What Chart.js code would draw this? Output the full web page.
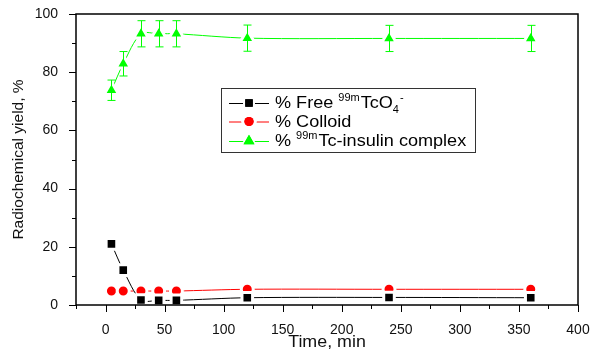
<!DOCTYPE html>
<html>
<head>
<meta charset="utf-8">
<script src="https://cdn.jsdelivr.net/npm/chart.js@4/dist/chart.umd.min.js"></script>
<style>
  html, body { margin: 0; padding: 0; background: #fff; }
  #wrap { width: 591px; height: 350px; }
</style>
</head>
<body>
<div id="wrap"><canvas id="chart" width="591" height="350"></canvas></div>
<script>
// sampling times (min)
const times = [5, 15, 30, 45, 60, 120, 240, 360]

// radiochemical yields, %
const freeTcO4 = [21, 12, 1.7, 1.6, 1.6, 2.5, 2.6, 2.5]
const colloid = [4.8, 4.8, 4.8, 4.8, 4.8, 5.4, 5.4, 5.4]
const complex = [73.8, 82.9, 93.2, 93.2, 93.2, 91.7, 91.6, 91.6]
const complexErr = [3.5, 4.2, 4.5, 4.5, 4.5, 4.5, 4.5, 4.5]

const xTicks = [0, 50, 100, 150, 200, 250, 300, 350, 400]
const yTicks = [0, 20, 40, 60, 80, 100]

const FONT = '"Liberation Sans", Arial, sans-serif'

const toPoints = (vals) => times.map((t, i) => ({ x: t, y: vals[i] }))

// text widened horizontally
const stretchText = (ctx, txt, x, y, sx) => {
  ctx.save()
  ctx.translate(x, y)
  ctx.scale(sx, 1)
  ctx.fillText(txt, 0, 0)
  ctx.restore()
  return ctx.measureText(txt).width * sx
}

// frame, major/minor ticks and axis titles
const framePlugin = {
  id: 'frame',
  afterDraw: (chart) => {
    const { ctx, chartArea: a, scales } = chart
    const sx = scales.x, sy = scales.y
    ctx.save()
    ctx.strokeStyle = '#000'
    ctx.lineWidth = 1.5
    ctx.strokeRect(a.left, a.top, a.right - a.left, a.bottom - a.top)

    ctx.lineWidth = 1
    ctx.beginPath()
    for (let v = -25; v <= 400; v += 25) {
      const px = Math.round(sx.getPixelForValue(v)) + 0.5
      const len = v % 50 === 0 ? 7 : 4
      ctx.moveTo(px, a.bottom)
      ctx.lineTo(px, a.bottom + len)
    }
    for (let v = 0; v <= 100; v += 10) {
      const py = Math.round(sy.getPixelForValue(v)) + 0.5
      const len = v % 20 === 0 ? 7 : 4
      ctx.moveTo(a.left, py)
      ctx.lineTo(a.left - len, py)
    }
    ctx.stroke()

    ctx.fillStyle = '#111'
    ctx.textBaseline = 'middle'
    ctx.textAlign = 'center'
    ctx.font = '17px ' + FONT
    stretchText(ctx, 'Time, min', (a.left + a.right) / 2, 342, 1.05)
    ctx.save()
    ctx.translate(19, (a.top + a.bottom) / 2)
    ctx.rotate(-Math.PI / 2)
    ctx.font = '15.5px ' + FONT
    ctx.fillText('Radiochemical yield, %', 0, 0)
    ctx.restore()
    ctx.restore()
  }
}

const errorBarPlugin = {
  id: 'errorBars',
  afterDatasetsDraw: (chart) => {
    const { ctx, scales } = chart
    ctx.save()
    ctx.strokeStyle = '#00ff00'
    ctx.lineWidth = 1
    ctx.beginPath()
    times.forEach((t, i) => {
      const px = Math.round(scales.x.getPixelForValue(t)) + 0.5
      const top = scales.y.getPixelForValue(complex[i] + complexErr[i])
      const bot = scales.y.getPixelForValue(complex[i] - complexErr[i])
      ctx.moveTo(px, top)
      ctx.lineTo(px, bot)
      ctx.moveTo(px - 4, top)
      ctx.lineTo(px + 4, top)
      ctx.moveTo(px - 4, bot)
      ctx.lineTo(px + 4, bot)
    })
    ctx.stroke()
    ctx.restore()
  }
}

// boxed legend with super/subscripts
const legendPlugin = {
  id: 'boxLegend',
  afterDraw: (chart) => {
    const ctx = chart.ctx
    const box = { x: 221, y: 88, w: 254, h: 64 }
    ctx.save()
    ctx.fillStyle = '#fff'
    ctx.fillRect(box.x, box.y, box.w, box.h)
    ctx.strokeStyle = '#333'
    ctx.lineWidth = 1
    ctx.strokeRect(box.x + 0.5, box.y + 0.5, box.w, box.h)

    const rows = [
      { color: '#000', style: 'rect', r: 5.3, parts: [['% Free ', 0], ['99m', -1], ['TcO', 0], ['4', 1], ['-', -1]] },
      { color: '#ff0000', style: 'circle', r: 4.6, parts: [['% Colloid', 0]] },
      { color: '#00ff00', style: 'triangle', r: 6.3, parts: [['% ', 0], ['99m', -1], ['Tc-insulin complex', 0]] }
    ]
    const rowY = [103, 121.5, 141]
    rows.forEach((row, i) => {
      const y = rowY[i]
      ctx.strokeStyle = row.color
      ctx.lineWidth = 1
      ctx.beginPath()
      ctx.moveTo(229, y + 0.5)
      ctx.lineTo(269, y + 0.5)
      ctx.stroke()
      ctx.fillStyle = '#fff'
      Chart.helpers.drawPoint(ctx, { pointStyle: row.style, radius: row.r + 3, borderWidth: 0 }, 249, y)
      ctx.fill()
      ctx.fillStyle = row.color
      Chart.helpers.drawPoint(ctx, { pointStyle: row.style, radius: row.r, borderWidth: 0 }, 249, y)
      ctx.fill()

      let x = 275
      ctx.fillStyle = '#000'
      ctx.textBaseline = 'middle'
      row.parts.forEach(([txt, mode]) => {
        if (mode === 0) {
          ctx.font = '16px ' + FONT
          x += stretchText(ctx, txt, x, y + 1, 1.13)
        } else {
          ctx.font = '10px ' + FONT
          x += stretchText(ctx, txt, x, mode < 0 ? y - 5 : y + 7, 1.1) + 1
        }
      })
    })
    ctx.restore()
  }
}

const ds = (label, vals, color, style, radius) => ({
  label,
  data: toPoints(vals),
  borderColor: color,
  backgroundColor: color,
  borderWidth: 1,
  pointStyle: style,
  pointRadius: radius,
  pointBorderColor: '#fff',
  pointBorderWidth: 3,
  tension: 0.3
})

new Chart(document.getElementById('chart'), {
  type: 'line',
  data: {
    datasets: [
      ds('% Free 99mTcO4-', freeTcO4, '#000000', 'rect', 7.5),
      ds('% Colloid', colloid, '#ff0000', 'circle', 6),
      ds('% 99mTc-insulin complex', complex, '#00ff00', 'triangle', 8.5)
    ]
  },
  plugins: [framePlugin, errorBarPlugin, legendPlugin],
  options: {
    responsive: false,
    animation: false,
    layout: { padding: { top: 14, right: 13, left: 0, bottom: 0 } },
    plugins: { legend: { display: false }, tooltip: { enabled: false } },
    scales: {
      x: {
        type: 'linear',
        min: -25,
        max: 400,
        afterBuildTicks: (s) => { s.ticks = xTicks.map(v => ({ value: v })) },
        afterFit: (s) => { s.height = 45; s.paddingLeft = 0; s.paddingRight = 0 },
        grid: { display: false },
        border: { display: false },
        ticks: { color: '#111', padding: 9, font: { family: FONT, size: 14 }, maxRotation: 0 }
      },
      y: {
        min: 0,
        max: 100,
        afterBuildTicks: (s) => { s.ticks = yTicks.map(v => ({ value: v })) },
        afterFit: (s) => { s.width = 76; s.paddingTop = 0; s.paddingBottom = 0 },
        grid: { display: false },
        border: { display: false },
        ticks: { color: '#111', padding: 10, font: { family: FONT, size: 14 } }
      }
    }
  }
})
</script>
</body>
</html>
